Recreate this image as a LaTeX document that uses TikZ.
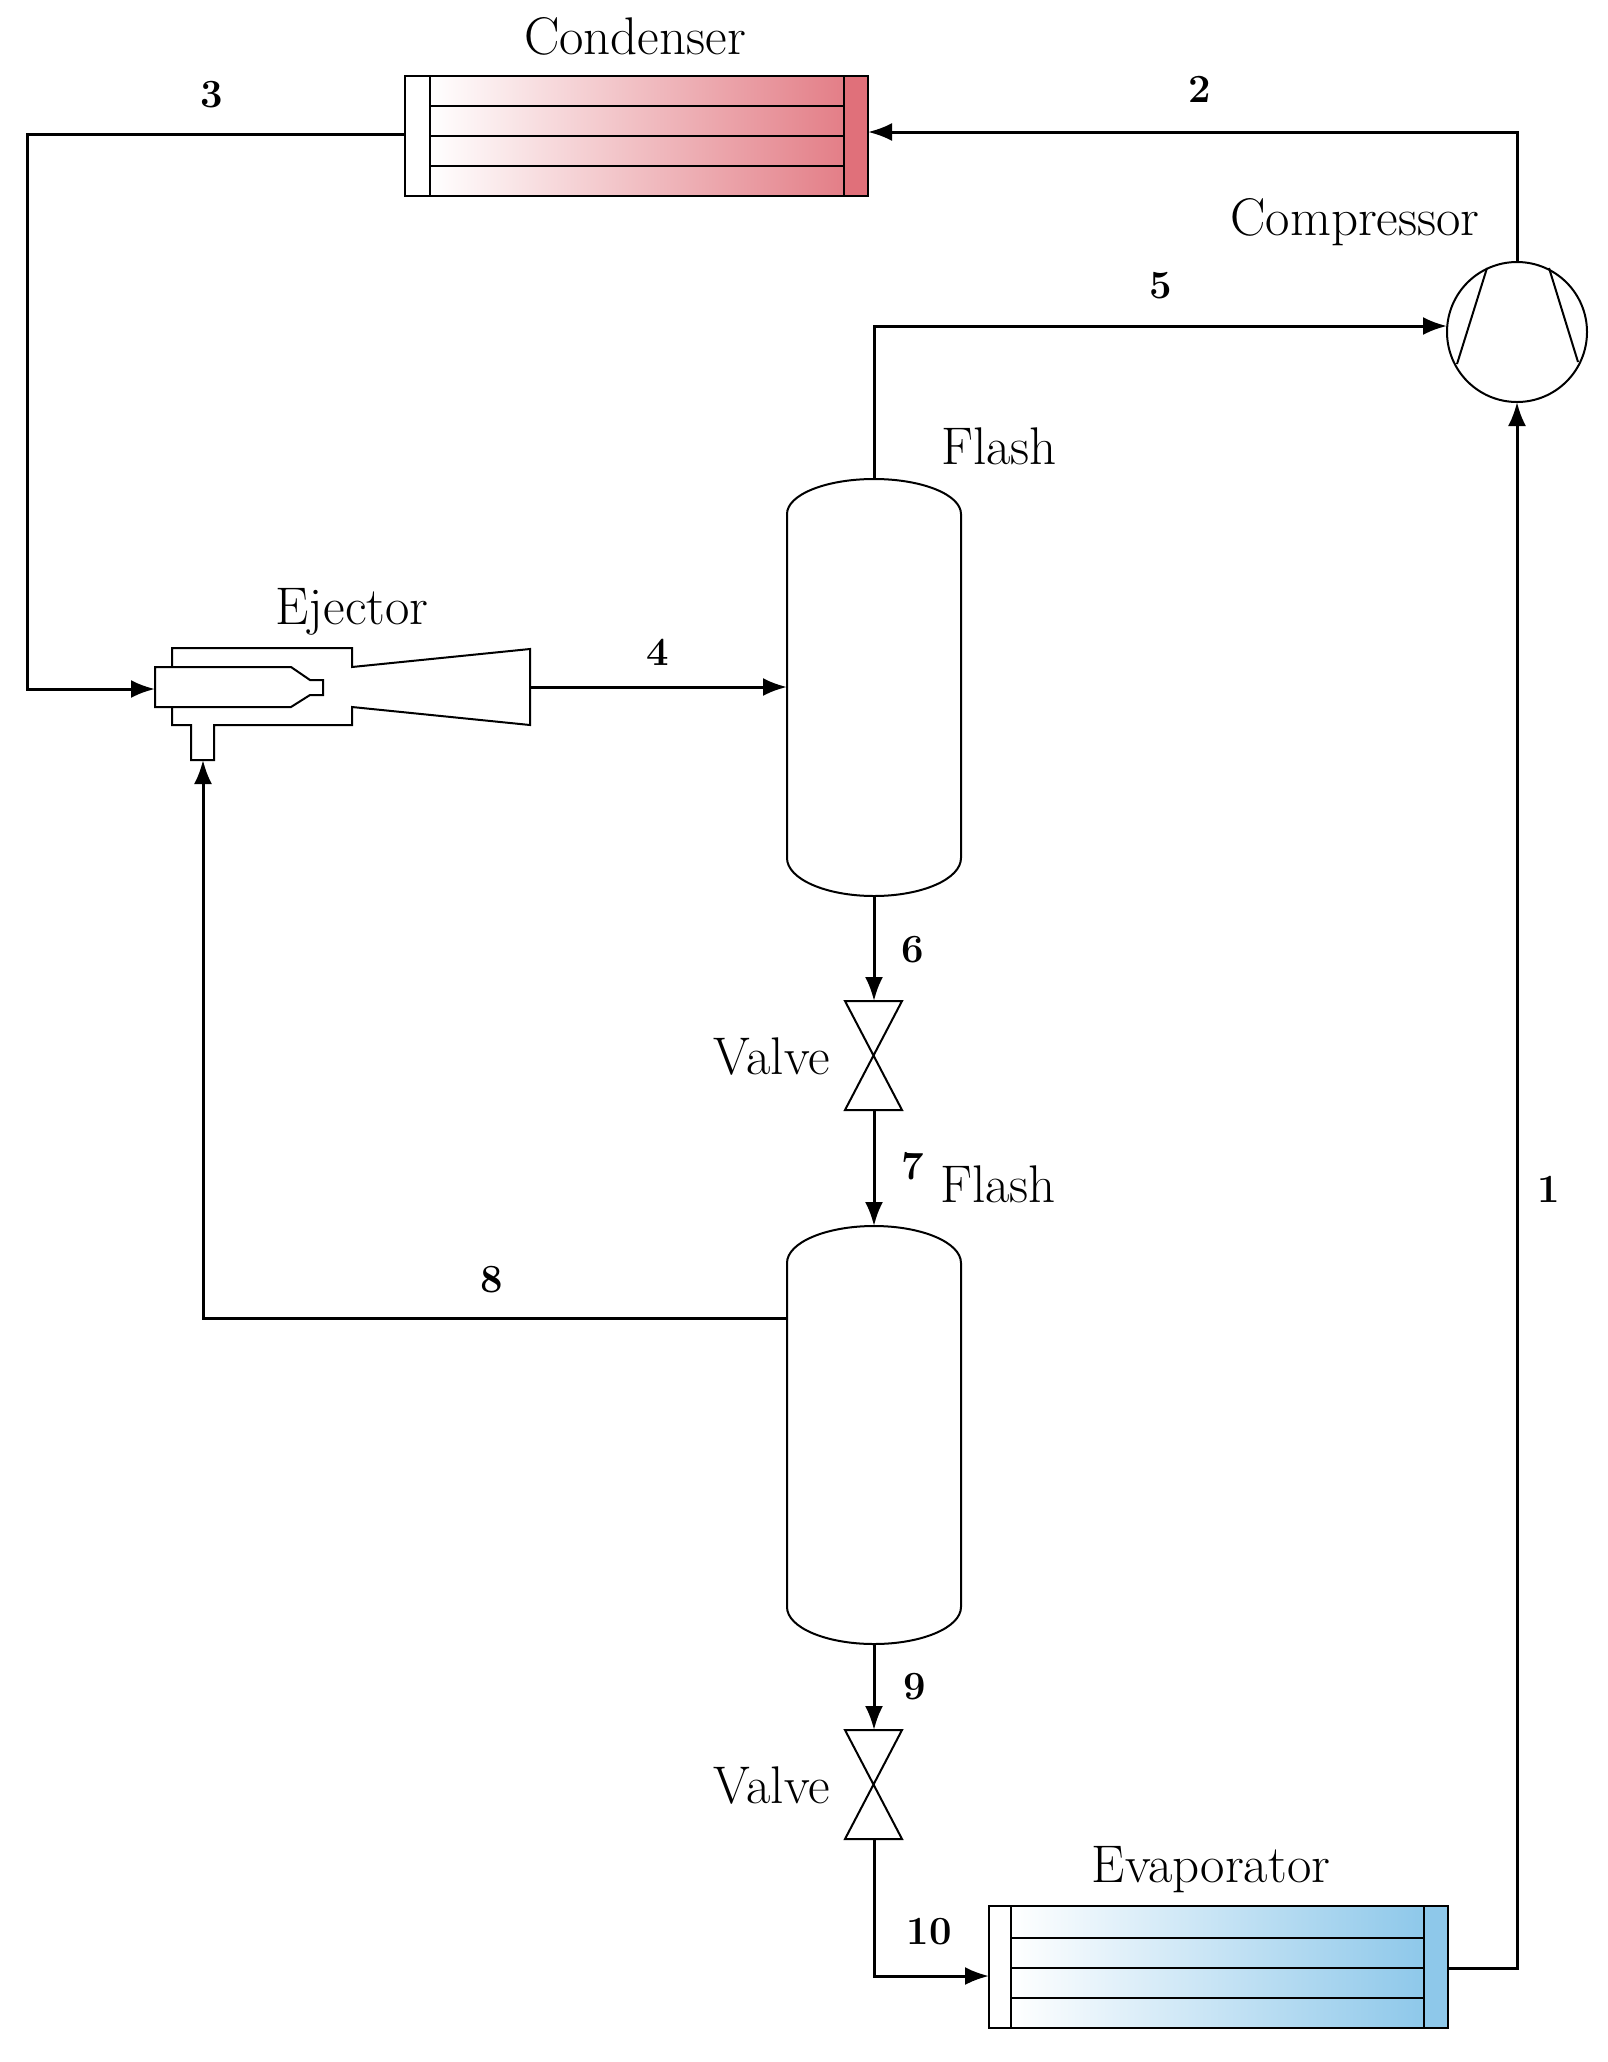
\documentclass[tikz,border=0pt]{standalone}
\usetikzlibrary{arrows.meta}
\definecolor{cred}{HTML}{E0707A}
\definecolor{cblue}{HTML}{8EC8EA}
\begin{document}
\begin{tikzpicture}[x=1pt,y=1pt,
  pipe/.style={line width=3pt},
  flow/.style={pipe,-{Latex[length=24pt,width=18pt]}},
  equip/.style={line width=2pt},
  lab/.style={font=\fontsize{53}{58}\selectfont},
  num/.style={font=\bfseries\fontsize{40}{44}\selectfont}]
\useasboundingbox (0,0) rectangle (1607,-2062);
% ---- Condenser
\shade[left color=white,right color=cred!90] (430,-76) rectangle (844,-196);
\fill[cred] (844,-76) rectangle (868,-196);
\draw[equip] (405,-76) rectangle (868,-196);
\draw[equip] (430,-76) -- (430,-196) (844,-76) -- (844,-196);
\foreach \y in {106,136,166} \draw[line width=2.8pt] (430,-\y) -- (844,-\y);
\node[lab] (tcond) at (635,-36) {Condenser};
\coordinate (condin) at (868,-132);
\coordinate (condout) at (405,-134);
% ---- Evaporator
\shade[left color=white,right color=cblue] (1011,-1906) rectangle (1424,-2028);
\fill[cblue] (1424,-1906) rectangle (1448,-2028);
\draw[equip] (989,-1906) rectangle (1448,-2028);
\draw[equip] (1011,-1906) -- (1011,-2028) (1424,-1906) -- (1424,-2028);
\foreach \y in {1938,1968,1998} \draw[line width=2.8pt] (1011,-\y) -- (1424,-\y);
\node[lab] (tevap) at (1211,-1870) {Evaporator};
\coordinate (evapin) at (989,-1976);
\coordinate (evapout) at (1448,-1968);
% ---- Compressor
\draw[equip] (1517,-332) circle (70);
\draw[equip] (1487,-268) -- (1457,-364) (1549,-268) -- (1578,-362);
\node[lab] (tcomp) at (1355,-222) {Compressor};
\coordinate (compin) at (1447,-326);
\coordinate (compout) at (1517,-262);
\coordinate (compbot) at (1517,-402);
% ---- Ejector
\draw[equip] (172,-667) -- (172,-648) -- (352,-648) -- (352,-667) -- (530,-649) -- (530,-725)
  -- (352,-707) -- (352,-725) -- (214,-725) -- (214,-760) -- (191,-760) -- (191,-725) -- (172,-725) -- (172,-707);
\draw[equip] (155,-667) -- (291,-667) -- (310,-680) -- (323,-680) -- (323,-695) -- (310,-695) -- (291,-707) -- (155,-707) -- cycle;
\node[lab] (tej) at (352,-612) {Ejector};
\coordinate (ejin) at (155,-689);
\coordinate (ejout) at (530,-687);
\coordinate (ejsuc) at (203,-760);
% ---- Flash tanks
\draw[equip] (787,-858) -- (787,-514) arc[start angle=180,end angle=0,x radius=87,y radius=35]
  -- (961,-858) arc[start angle=0,end angle=-180,x radius=87,y radius=38];
\node[lab] (tf1) at (999,-446) {Flash};
\coordinate (f1top) at (874,-479);
\coordinate (f1left) at (787,-687);
\coordinate (f1bot) at (874,-896);
\draw[equip] (787,-1607) -- (787,-1263) arc[start angle=180,end angle=0,x radius=87,y radius=37]
  -- (961,-1607) arc[start angle=0,end angle=-180,x radius=87,y radius=37];
\node[lab] (tf2) at (998,-1184) {Flash};
\coordinate (f2top) at (874,-1226);
\coordinate (f2left) at (787,-1318);
\coordinate (f2bot) at (874,-1644);
% ---- Valves
\foreach \n/\t in {v1/1001, v2/1730} {
  \pgfmathsetmacro{\b}{\t+109}
  \draw[equip] (845,-\t) -- (902,-\t) -- (845,-\b) -- (902,-\b) -- cycle;
  \coordinate (\n top) at (874,-\t);
  \coordinate (\n bot) at (874,-\b);
}
\node[lab] (tv1) at (772,-1057) {Valve};
\node[lab] (tv2) at (772,-1786) {Valve};
% ---- Connectors
\draw[flow] (compout) |- (condin);
\draw[flow] (condout) -| (27,-400) |- (ejin);
\draw[flow] (ejout) -- (f1left);
\draw[flow] (f1top) |- (compin);
\draw[flow] (f1bot) -- (v1top);
\draw[flow] (v1bot) -- (f2top);
\draw[flow] (f2left) -| (ejsuc);
\draw[flow] (f2bot) -- (v2top);
\draw[flow] (v2bot) |- (evapin);
\draw[flow] (evapout) -| (compbot);
% ---- Stream numbers
\node[num] at (1549,-1189) {1};
\node[num] at (1200,-89) {2};
\node[num] at (212,-95) {3};
\node[num] at (658,-652) {4};
\node[num] at (1161,-286) {5};
\node[num] at (913,-950) {6};
\node[num] at (913,-1166) {7};
\node[num] at (492,-1280) {8};
\node[num] at (915,-1687) {9};
\node[num] at (929,-1932) {10};
\end{tikzpicture}
\end{document}
